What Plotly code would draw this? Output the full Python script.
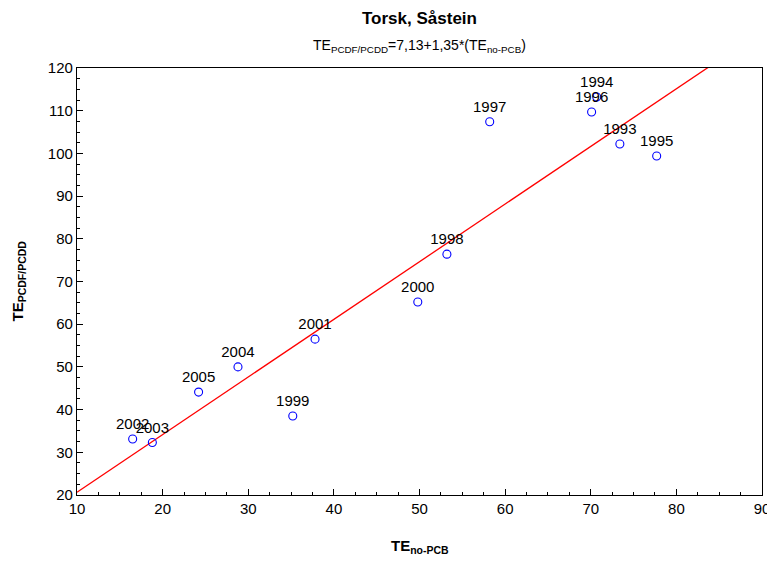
import plotly.graph_objects as go

years = ["1993", "1994", "1995", "1996", "1997", "1998", "1999", "2000",
         "2001", "2002", "2003", "2004", "2005"]
te_no_pcb = [73.4, 70.7, 77.7, 70.1, 58.2, 53.2, 35.2, 49.8, 37.8, 16.5, 18.8, 28.8, 24.2]
te_pcdf = [102.2, 113.2, 99.4, 109.7, 107.4, 76.4, 38.5, 65.2, 56.5, 33.1, 32.3, 50.0, 44.1]

intercept = 7.13
slope = 1.35
fit_x = [10, 90]
fit_y = [intercept + slope * v for v in fit_x]

FONT = "Liberation Sans, Arial, sans-serif"

fig = go.Figure()
fig.add_trace(go.Scatter(
    x=fit_x, y=fit_y, mode="lines",
    line=dict(color="#ff0000", width=1.3),
    hoverinfo="skip", showlegend=False,
))
fig.add_trace(go.Scatter(
    x=te_no_pcb, y=te_pcdf, mode="markers+text",
    text=years, textposition="top center",
    textfont=dict(family=FONT, size=15, color="#000000"),
    marker=dict(symbol="circle-open", size=8, color="#0000ff", line=dict(width=1.1)),
    cliponaxis=False, showlegend=False,
))

axis_common = dict(
    showgrid=False, zeroline=False,
    showline=True, linecolor="#000000", linewidth=1.2, mirror=True,
    ticks="inside", ticklen=6, tickcolor="#000000", tickwidth=1,
    tickfont=dict(family=FONT, size=15, color="#000000"),
    ticklabeloverflow="allow", automargin=False,
    minor=dict(ticks="inside", ticklen=3, dtick=2.5, tickcolor="#000000", tickwidth=1, showgrid=False),
)

ann = [
    dict(text="<b>Torsk, Såstein</b>", x=0.5, y=1, xref="paper", yref="paper",
         xanchor="center", yanchor="middle", yshift=68 - 18,
         font=dict(family=FONT, size=17, color="#000000"), showarrow=False),
    dict(text="TE<sub>PCDF/PCDD</sub>=7,13+1,35*(TE<sub>no-PCB</sub>)", x=0.5, y=1,
         xref="paper", yref="paper", xanchor="center", yanchor="middle", yshift=68 - 46,
         font=dict(family=FONT, size=14, color="#000000"), showarrow=False),
    dict(text="<b>TE<sub>no-PCB</sub></b>", x=0.5, y=0, xref="paper", yref="paper",
         xanchor="center", yanchor="middle", yshift=-(546 - 495),
         font=dict(family=FONT, size=15, color="#000000"), showarrow=False),
    dict(text="<b>TE<sub>PCDF/PCDD</sub></b>", x=0, y=0.5, xref="paper", yref="paper",
         xanchor="center", yanchor="middle", xshift=-(77 - 18), textangle=-90,
         font=dict(family=FONT, size=15, color="#000000"), showarrow=False),
]

fig.update_layout(
    width=767, height=563,
    paper_bgcolor="white", plot_bgcolor="white",
    margin=dict(l=77, r=5, t=68, b=68),
    xaxis=dict(range=[10, 90], dtick=10, tick0=10, **axis_common),
    yaxis=dict(range=[20, 120], dtick=10, tick0=20, **axis_common),
    annotations=ann,
)

fig.write_html("out.html")
